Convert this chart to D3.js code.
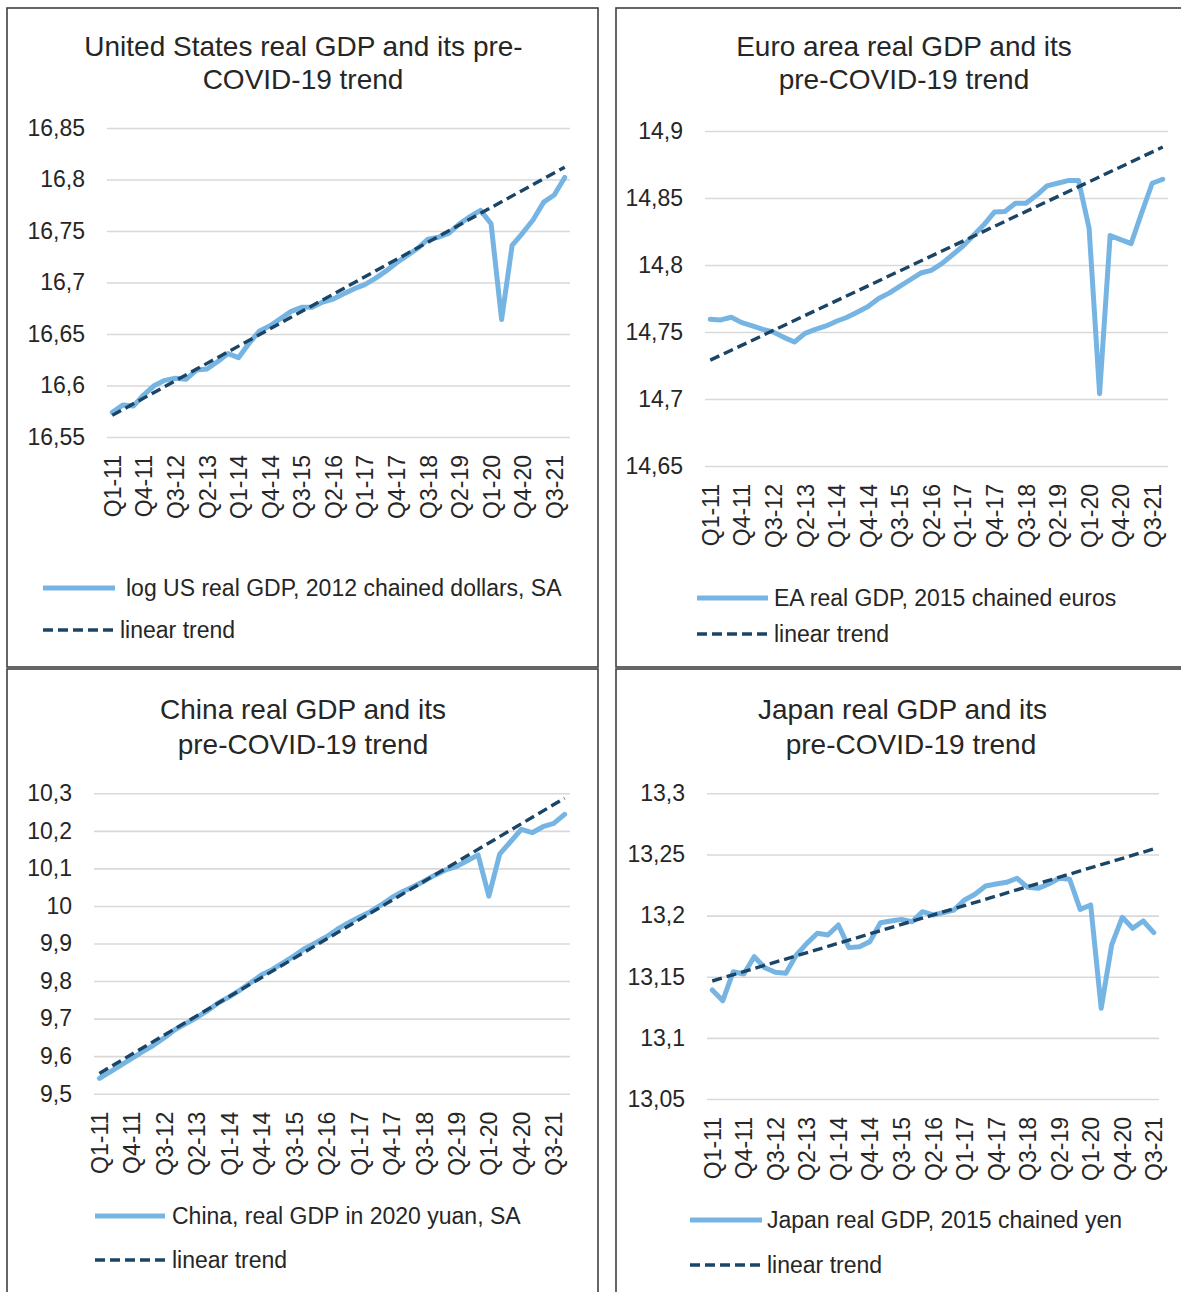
<!DOCTYPE html>
<html><head><meta charset="utf-8">
<script src="https://cdn.jsdelivr.net/npm/d3@7"></script>
<style>
body{margin:0;background:#fff}
svg{display:block}
text{font-family:"Liberation Sans",Arial,Helvetica,sans-serif;fill:#262626}
</style>
</head><body>
<svg id="chart" width="1181" height="1292"></svg>
<script>
// ---------- DATA ----------
const categories = [
  "Q1-11","Q2-11","Q3-11","Q4-11","Q1-12","Q2-12","Q3-12","Q4-12",
  "Q1-13","Q2-13","Q3-13","Q4-13","Q1-14","Q2-14","Q3-14","Q4-14",
  "Q1-15","Q2-15","Q3-15","Q4-15","Q1-16","Q2-16","Q3-16","Q4-16",
  "Q1-17","Q2-17","Q3-17","Q4-17","Q1-18","Q2-18","Q3-18","Q4-18",
  "Q1-19","Q2-19","Q3-19","Q4-19","Q1-20","Q2-20","Q3-20","Q4-20",
  "Q1-21","Q2-21","Q3-21","Q4-21"
];

const usGdp = [16.574,16.581,16.580,16.591,16.600,16.605,16.607,16.606,16.615,16.616,
  16.623,16.631,16.627,16.641,16.653,16.658,16.665,16.672,16.676,16.676,
  16.681,16.684,16.689,16.694,16.698,16.704,16.711,16.719,16.726,16.733,
  16.742,16.744,16.748,16.757,16.764,16.770,16.757,16.664,16.736,16.748,
  16.761,16.778,16.785,16.802];
const usTrend = [16.571, 16.812];

const eaGdp = [14.7595,14.759,14.761,14.757,14.7545,14.752,14.750,14.746,14.7425,14.749,
  14.752,14.7545,14.758,14.761,14.765,14.769,14.775,14.779,14.784,14.789,
  14.794,14.796,14.801,14.8075,14.814,14.822,14.830,14.8395,14.840,14.846,
  14.846,14.852,14.859,14.861,14.863,14.863,14.8275,14.704,14.822,14.819,
  14.816,14.839,14.861,14.864];
const eaTrend = [14.729, 14.888];

const cnGdp = [9.541,9.558,9.576,9.594,9.612,9.629,9.649,9.671,9.687,9.703,
  9.721,9.742,9.758,9.776,9.796,9.817,9.831,9.849,9.867,9.887,
  9.902,9.918,9.938,9.955,9.970,9.984,10.002,10.022,10.038,10.051,
  10.066,10.082,10.096,10.105,10.120,10.136,10.026,10.138,10.171,10.204,
  10.195,10.211,10.220,10.244];
const cnTrend = [9.554, 10.287];

const jpGdp = [13.1392,13.1304,13.1541,13.1522,13.1664,13.1574,13.1536,13.1528,13.1678,13.1773,
  13.1855,13.1841,13.1923,13.1738,13.1746,13.1787,13.1942,13.1956,13.1969,13.1950,
  13.2032,13.2005,13.2024,13.2046,13.2128,13.2174,13.2242,13.2258,13.2272,13.2305,
  13.2231,13.2223,13.2258,13.2305,13.2297,13.2051,13.2087,13.1242,13.1760,13.1986,
  13.1896,13.1956,13.1861];
const jpTrend = [13.1465, 13.2545];

const usTicks = [16.55,16.6,16.65,16.7,16.75,16.8,16.85];
const eaTicks = [14.65,14.7,14.75,14.8,14.85,14.9];
const cnTicks = [9.5,9.6,9.7,9.8,9.9,10,10.1,10.2,10.3];
const jpTicks = [13.05,13.1,13.15,13.2,13.25,13.3];

const usTitle = ["United States real GDP and its pre-","COVID-19 trend"];
const eaTitle = ["Euro area real GDP and its","pre-COVID-19 trend"];
const cnTitle = ["China real GDP and its","pre-COVID-19 trend"];
const jpTitle = ["Japan real GDP and its","pre-COVID-19 trend"];

const usLegend = ["log US real GDP, 2012 chained dollars, SA","linear trend"];
const eaLegend = ["EA real GDP, 2015 chained euros","linear trend"];
const cnLegend = ["China, real GDP in 2020 yuan, SA","linear trend"];
const jpLegend = ["Japan real GDP, 2015 chained yen","linear trend"];

// ---------- LAYOUT ----------
const panels = [
  {series: usGdp, trend: usTrend, ticks: usTicks, title: usTitle, legend: usLegend,
   box:{x:7,y:8,w:591,h:659}, plot:{l:107,r:570,t:128,b:437},
   titlePos:[[303.5,56],[303,89]],
   legPos:[{x1:43,x2:115,y:588,tx:126},{x1:43,x2:115,y:630,tx:120}]},
  {series: eaGdp, trend: eaTrend, ticks: eaTicks, title: eaTitle, legend: eaLegend,
   box:{x:616,y:8,w:600,h:659}, plot:{l:705,r:1168,t:131,b:466},
   titlePos:[[904,56],[904,89]],
   legPos:[{x1:697,x2:768,y:598,tx:774},{x1:697,x2:768,y:634,tx:774}]},
  {series: cnGdp, trend: cnTrend, ticks: cnTicks, title: cnTitle, legend: cnLegend,
   box:{x:7,y:669,w:591,h:660}, plot:{l:94,r:570,t:793.3,b:1093.7},
   titlePos:[[303,719],[303,754]],
   legPos:[{x1:95,x2:165,y:1216,tx:172},{x1:95,x2:165,y:1260,tx:172}]},
  {series: jpGdp, trend: jpTrend, ticks: jpTicks, title: jpTitle, legend: jpLegend,
   box:{x:616,y:669,w:600,h:660}, plot:{l:707,r:1159,t:793.3,b:1099},
   titlePos:[[902.5,719],[911,754]],
   legPos:[{x1:690,x2:762,y:1220,tx:767},{x1:690,x2:762,y:1265,tx:767}]}
];

const BLUE = "#76b5e3";
const NAVY = "#1b4566";
const GRID = "#d9d9d9";
const fmt = v => String(+v.toFixed(3)).replace(".", ",");

const svg = d3.select("#chart");

panels.forEach(p => {
  const g = svg.append("g");
  g.append("rect").attr("x", p.box.x).attr("y", p.box.y)
    .attr("width", p.box.w).attr("height", p.box.h)
    .attr("fill", "none").attr("stroke", "#404040").attr("stroke-width", 1.6);

  // title
  p.title.forEach((t, i) => {
    g.append("text").attr("x", p.titlePos[i][0]).attr("y", p.titlePos[i][1])
      .attr("text-anchor", "middle").style("font-size", "28px").text(t);
  });

  const cats = categories.slice(0, p.series.length);
  const x = d3.scalePoint().domain(cats).range([p.plot.l, p.plot.r]).padding(0.5);
  const y = d3.scaleLinear().domain([p.ticks[0], p.ticks[p.ticks.length-1]])
    .range([p.plot.b, p.plot.t]);

  // y axis with gridlines
  const ya = g.append("g").attr("transform", `translate(${p.plot.l},0)`)
    .call(d3.axisLeft(y).tickValues(p.ticks).tickFormat(fmt)
      .tickSize(-(p.plot.r - p.plot.l)).tickPadding(22));
  ya.select(".domain").remove();
  ya.selectAll(".tick line").attr("stroke", GRID).attr("stroke-width", 1.6);
  ya.selectAll(".tick text").style("font-size", "23px").attr("fill", "#262626")
    .attr("font-family", null);

  // x axis
  const labelCats = cats.filter((c, i) => i % 3 === 0);
  const xa = g.append("g").attr("transform", `translate(0,${p.plot.b})`)
    .call(d3.axisBottom(x).tickValues(labelCats).tickSize(0));
  xa.select(".domain").remove();
  xa.selectAll(".tick text")
    .attr("transform", "rotate(-90)")
    .attr("text-anchor", "end")
    .attr("x", -18).attr("y", 0).attr("dy", "0.35em")
    .style("font-size", "23px").attr("fill", "#262626").attr("font-family", null);

  // data line
  const line = d3.line().x((d, i) => x(cats[i])).y(d => y(d));
  g.append("path").datum(p.series).attr("d", line)
    .attr("fill", "none").attr("stroke", BLUE).attr("stroke-width", 5)
    .attr("stroke-linejoin", "round").attr("stroke-linecap", "round");

  // trend line (two endpoints: first and last category)
  const trendPts = [[cats[0], p.trend[0]], [cats[cats.length-1], p.trend[1]]];
  g.append("path").datum(trendPts)
    .attr("d", d3.line().x(d => x(d[0])).y(d => y(d[1])))
    .attr("fill", "none").attr("stroke", NAVY).attr("stroke-width", 3.4)
    .attr("stroke-dasharray", "10,5");

  // legend
  p.legend.forEach((t, i) => {
    const lp = p.legPos[i];
    g.append("line").attr("x1", lp.x1).attr("x2", lp.x2).attr("y1", lp.y).attr("y2", lp.y)
      .attr("stroke", i === 0 ? BLUE : NAVY)
      .attr("stroke-width", i === 0 ? 5 : 3.4)
      .attr("stroke-dasharray", i === 0 ? null : "10,5");
    g.append("text").attr("x", lp.tx).attr("y", lp.y).attr("dy", "0.35em")
      .style("font-size", "23px").text(t);
  });
});
</script>
</body></html>
